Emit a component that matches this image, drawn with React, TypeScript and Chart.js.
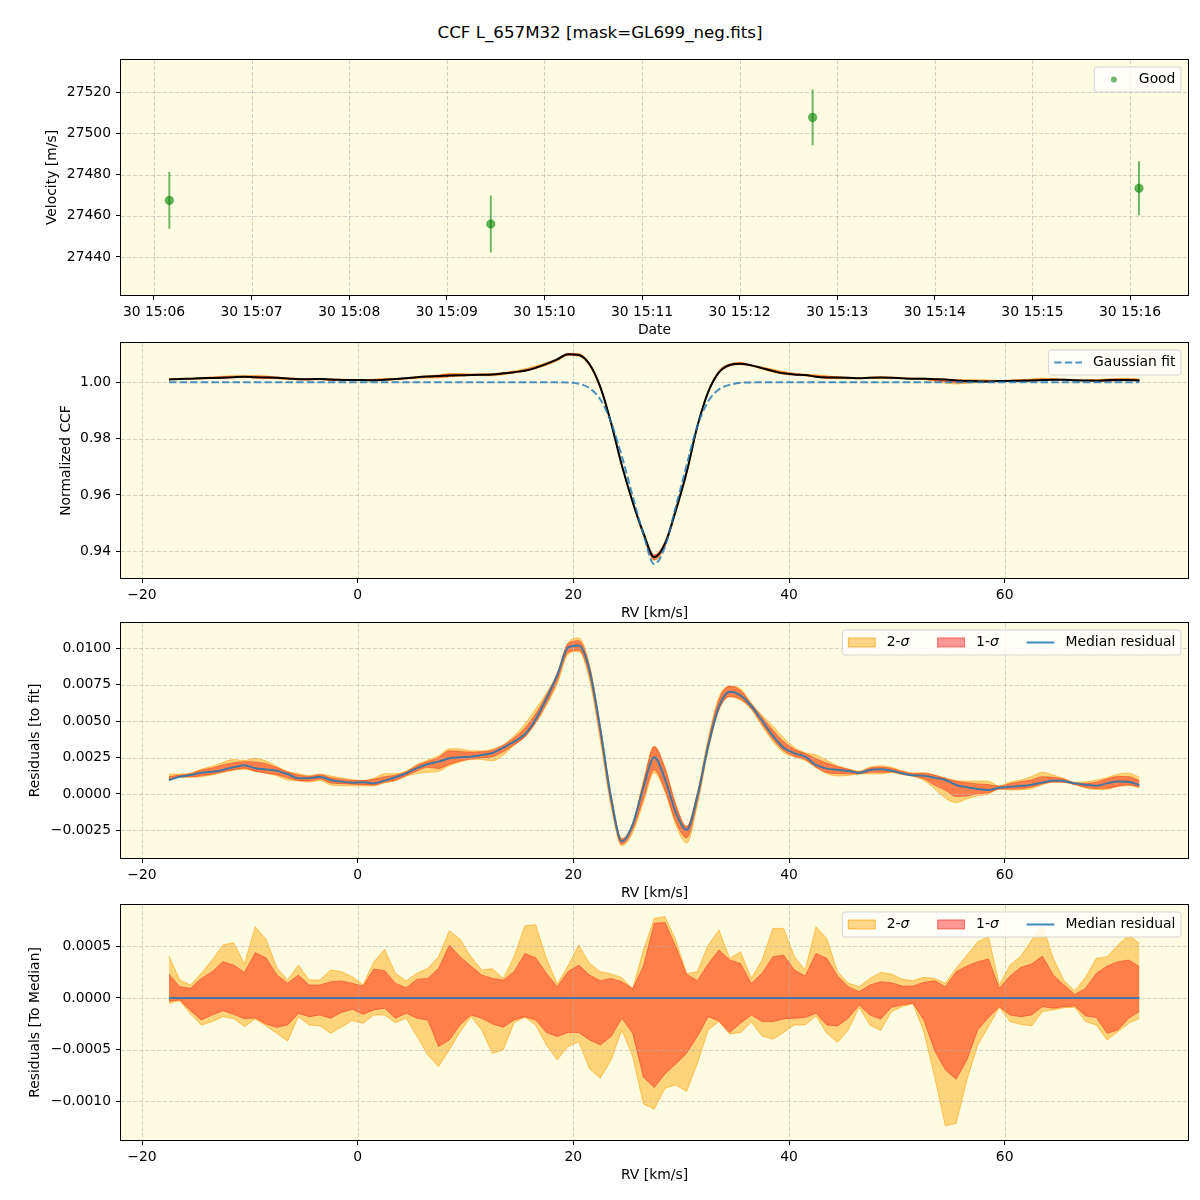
import React, { useEffect, useRef } from "react";
import { Chart, registerables } from "chart.js";

Chart.register(...registerables);

const FONT = "'DejaVu Sans', 'Liberation Sans', sans-serif";
const FS = 13.9;
const BG = "#fdfbe1";
const GRID = "rgba(176,176,176,0.55)";

const TITLE = "CCF L_657M32 [mask=GL699_neg.fits]";

// ---------- Panel 1: velocities ----------
const obsMinutes = [0.157, 3.451, 6.748, 10.092]; // minutes after 30 15:06
const velocity = [27467.5, 27456.0, 27507.8, 27473.4];
const velocityErr = [13.8, 13.8, 13.6, 13.1];
const dateTickLabels = [
  "30 15:06", "30 15:07", "30 15:08", "30 15:09", "30 15:10", "30 15:11",
  "30 15:12", "30 15:13", "30 15:14", "30 15:15", "30 15:16",
];

// ---------- RV grid (km/s) ----------
const rv = [
  -17.5, -16.5, -15.5, -14.5, -13.5, -12.5, -11.5, -10.5, -9.5, -8.5,
  -7.5, -6.5, -5.5, -4.5, -3.5, -2.5, -1.5, -0.5, 0.5, 1.5,
  2.5, 3.5, 4.5, 5.5, 6.5, 7.5, 8.5, 9.5, 10.5, 11.5,
  12.5, 13.5, 14.5, 15.5, 16.5, 17.5, 18.5, 19.5, 20.5, 21.5,
  22.5, 23.5, 24.5, 25.5, 26.5, 27.5, 28.5, 29.5, 30.5, 31.5,
  32.5, 33.5, 34.5, 35.5, 36.5, 37.5, 38.5, 39.5, 40.5, 41.5,
  42.5, 43.5, 44.5, 45.5, 46.5, 47.5, 48.5, 49.5, 50.5, 51.5,
  52.5, 53.5, 54.5, 55.5, 56.5, 57.5, 58.5, 59.5, 60.5, 61.5,
  62.5, 63.5, 64.5, 65.5, 66.5, 67.5, 68.5, 69.5, 70.5, 71.5,
  72.5,
];

// Gaussian fit (normalized CCF)
const gaussFit = [
  1, 1, 1, 1, 1, 1, 1, 1, 1, 1,
  1, 1, 1, 1, 1, 1, 1, 1, 1, 1,
  1, 1, 1, 1, 1, 1, 1, 1, 1, 1,
  1, 1, 1, 1, 1, 1, 1, 0.99992, 0.9995, 0.9979,
  0.9939, 0.9858, 0.9737, 0.9596, 0.946, 0.9354, 0.9417, 0.9558, 0.9705, 0.9845,
  0.9932, 0.9975, 0.9991, 0.9998, 0.99996, 1, 1, 1, 1, 1,
  1, 1, 1, 1, 1, 1, 1, 1, 1, 1,
  1, 1, 1, 1, 1, 1, 1, 1, 1, 1,
  1, 1, 1, 1, 1, 1, 1, 1, 1, 1,
  1,
];

// Median residual to fit (units of 1e-4)
const medianResid = [
  9.6, 11.9, 13.0, 14.6, 15.3, 16.5, 18.3, 19.7, 17.6, 16.9,
  16.0, 13.7, 10.8, 10.8, 11.9, 9.6, 8.5, 7.8, 8.0, 7.3,
  9.2, 11.5, 14.2, 17.8, 20.4, 22.2, 24.5, 25.2, 25.6, 26.8,
  28.1, 31.8, 35.9, 41.0, 51.2, 65.4, 81.4, 100.5, 102.0, 85.1,
  44.5, -2.7, -32.5, -21.0, 4.6, 25.2, 10.1, -12.6, -24.7, -1.4,
  32.7, 59.9, 70.2, 67.7, 60.4, 50.3, 40.0, 31.8, 28.0, 25.6,
  19.9, 17.4, 16.7, 15.8, 14.6, 16.5, 16.9, 16.0, 14.2, 12.8,
  12.6, 11.2, 9.6, 6.2, 4.6, 3.4, 2.7, 4.3, 5.0, 5.5,
  6.4, 7.8, 9.2, 8.9, 7.3, 6.4, 5.7, 7.3, 8.5, 8.2,
  6.2,
];

// Band edges relative to the median (units of 1e-4)
const hi2 = [
  4.06, 1.74, 1.26, 2.39, 3.68, 5.13, 5.35, 3.29, 6.9, 5.7,
  2.94, 1.74, 3.19, 1.74, 1.74, 2.71, 2.55, 2.06, 1.26, 3.5,
  4.7, 2.39, 1.65, 2.39, 2.87, 4.0, 6.52, 5.68, 4.0, 2.71,
  2.84, 1.9, 4.0, 7.0, 7.1, 3.84, 1.35, 3.1, 5.13, 3.35,
  2.55, 2.32, 1.97, 0.9, 4.65, 7.71, 7.87, 5.61, 2.35, 2.55,
  5.13, 6.58, 3.84, 4.48, 1.9, 3.68, 6.74, 6.74, 4.0, 2.71,
  6.9, 5.77, 2.55, 1.42, 1.1, 1.9, 2.48, 2.32, 1.81, 1.68,
  2.0, 1.9, 1.42, 2.87, 4.16, 5.45, 5.94, 1.26, 3.19, 4.06,
  5.61, 7.06, 3.84, 1.68, 0.71, 2.0, 3.84, 4.0, 5.13, 6.1,
  5.29,
];
const hi1 = [
  2.32, 1.1, 0.94, 1.9, 2.55, 3.52, 3.19, 2.48, 4.4, 3.9,
  2.23, 1.42, 2.23, 1.26, 1.26, 1.58, 1.65, 1.42, 1.16, 2.8,
  2.65, 1.42, 1.0, 1.81, 1.9, 2.87, 5.1, 4.0, 3.1, 2.23,
  1.9, 1.74, 2.55, 4.3, 3.9, 2.39, 1.1, 2.55, 3.19, 2.23,
  1.68, 1.9, 1.58, 0.9, 3.1, 7.23, 7.32, 4.97, 2.3, 1.68,
  3.29, 4.65, 3.68, 3.35, 1.42, 2.39, 4.0, 4.16, 2.71, 2.13,
  4.32, 3.84, 2.13, 1.1, 0.61, 1.26, 1.58, 1.48, 1.16, 1.16,
  1.52, 1.68, 1.1, 2.55, 3.1, 3.52, 3.77, 0.94, 2.13, 2.97,
  3.29, 4.06, 2.23, 1.26, 0.35, 0.94, 2.39, 3.1, 3.52, 3.68,
  3.03,
];
const lo1 = [
  -0.32, -0.19, -1.23, -2.13, -1.65, -1.23, -1.58, -2.0, -1.94, -2.52,
  -2.84, -2.61, -1.5, -1.81, -1.65, -1.97, -1.4, -1.1, -1.58, -1.16,
  -1.0, -1.97, -1.48, -1.97, -2.13, -4.71, -4.06, -2.61, -1.65, -1.97,
  -2.52, -2.84, -2.13, -1.81, -2.13, -3.35, -3.74, -3.35, -3.35, -4.06,
  -4.55, -3.74, -1.97, -3.42, -7.68, -8.68, -7.35, -6.39, -5.35, -3.74,
  -1.81, -2.23, -3.35, -2.45, -1.65, -2.29, -2.29, -2.03, -1.97, -1.9,
  -1.48, -2.61, -2.71, -1.97, -0.68, -1.65, -2.06, -0.9, -0.68, -0.5,
  -2.13, -5.1, -6.97, -7.87, -6.0, -3.1, -1.9, -0.84, -1.65, -1.81,
  -1.65, -0.84, -1.0, -0.84, -0.77, -1.74, -1.9, -3.42, -3.1, -1.97,
  -1.32,
];
const lo2 = [
  -0.52, -0.26, -1.55, -2.61, -2.29, -1.81, -2.0, -2.77, -2.03, -2.68,
  -3.42, -4.16, -1.81, -2.61, -2.7, -3.42, -2.8, -2.19, -2.45, -1.65,
  -1.65, -2.39, -1.97, -3.74, -5.52, -6.65, -5.03, -3.26, -1.81, -3.1,
  -5.35, -5.03, -2.39, -1.87, -2.61, -4.55, -6.0, -4.71, -4.23, -6.87,
  -7.77, -6.0, -3.1, -5.68, -10.26, -10.77, -8.74, -8.42, -9.06, -6.32,
  -3.1, -2.29, -3.48, -3.35, -2.35, -3.68, -4.0, -3.35, -2.61, -2.61,
  -1.74, -3.42, -4.29, -3.1, -0.9, -2.61, -3.16, -1.32, -0.84, -0.55,
  -3.26, -7.61, -12.39, -12.13, -7.94, -4.55, -2.77, -0.9, -2.29, -2.55,
  -2.71, -1.32, -1.16, -0.94, -0.9, -2.29, -2.61, -4.06, -3.26, -2.45,
  -1.97,
];
const rvTickLabels: Record<number, string> = { [-20]: "\u221220", 0: "0", 20: "20", 40: "40", 60: "60" };

const E4 = 1e-4;

// ---------- styles ----------
const C_2SIG = "rgba(255,165,0,0.45)";
const C_2SIG_EDGE = "rgba(255,160,0,0.55)";
const C_1SIG = "rgba(255,0,0,0.4)";
const C_1SIG_EDGE = "rgba(240,40,20,0.45)";
const C_MED = "rgba(31,119,180,0.85)";
const C_GAUSS = "rgba(31,119,180,0.8)";

const PAD_TOP = 20;
const AREA_H = 235;
const XAXIS_H = 45;
const CANVAS_H = PAD_TOP + AREA_H + XAXIS_H;

const minus = (s: string) => s.replace(/-/g, "\u2212");
const xy = (xs: number[], ys: number[]) => xs.map((x, i) => ({ x, y: ys[i] }));

type LegendItem = { kind: "dot" | "dash" | "patch" | "line"; label: string; sigma?: boolean; fill?: string; stroke?: string };

function drawGrid(chart: any) {
  const { ctx, chartArea: a, scales } = chart;
  ctx.save();
  ctx.beginPath();
  ctx.rect(a.left, a.top, a.right - a.left, a.bottom - a.top);
  ctx.clip();
  ctx.strokeStyle = GRID;
  ctx.lineWidth = 1;
  ctx.setLineDash([4, 2]);
  ctx.beginPath();
  for (const t of scales.x.ticks) {
    const px = Math.round(scales.x.getPixelForValue(t.value)) + 0.5;
    ctx.moveTo(px, a.top);
    ctx.lineTo(px, a.bottom);
  }
  for (const t of scales.y.ticks) {
    const py = Math.round(scales.y.getPixelForValue(t.value)) + 0.5;
    ctx.moveTo(a.left, py);
    ctx.lineTo(a.right, py);
  }
  ctx.stroke();
  ctx.restore();
}

function drawLegend(chart: any, items: LegendItem[]) {
  if (!items.length) return;
  const { ctx, chartArea: a } = chart;
  const pad = 5.56, hl = 27.8, tp = 11.1, cs = 27.8, h = 25;
  const fontN = `${FS}px ${FONT}`;
  const fontI = `italic ${FS}px ${FONT}`;
  ctx.save();
  const widths = items.map((it) => {
    ctx.font = fontN;
    if (it.sigma) {
      const w1 = ctx.measureText(it.label.slice(0, -1)).width;
      ctx.font = fontI;
      return w1 + ctx.measureText(it.label.slice(-1)).width;
    }
    return ctx.measureText(it.label).width;
  });
  let total = pad * 2;
  items.forEach((_, i) => {
    total += hl + tp + widths[i] + (i > 0 ? cs : 0);
  });
  const left = a.right - 7 - total;
  const top = a.top + 7;
  const r = 3;
  ctx.beginPath();
  ctx.moveTo(left + r, top);
  ctx.lineTo(left + total - r, top);
  ctx.arcTo(left + total, top, left + total, top + r, r);
  ctx.lineTo(left + total, top + h - r);
  ctx.arcTo(left + total, top + h, left + total - r, top + h, r);
  ctx.lineTo(left + r, top + h);
  ctx.arcTo(left, top + h, left, top + h - r, r);
  ctx.lineTo(left, top + r);
  ctx.arcTo(left, top, left + r, top, r);
  ctx.closePath();
  ctx.fillStyle = "rgba(255,255,255,0.8)";
  ctx.fill();
  ctx.strokeStyle = "rgba(204,204,204,0.8)";
  ctx.lineWidth = 1;
  ctx.stroke();

  const cy = top + h / 2;
  let x = left + pad;
  items.forEach((it, i) => {
    if (i > 0) x += cs;
    ctx.setLineDash([]);
    if (it.kind === "dot") {
      ctx.beginPath();
      ctx.arc(x + hl / 2, cy, 3, 0, Math.PI * 2);
      ctx.fillStyle = it.fill!;
      ctx.fill();
    } else if (it.kind === "dash" || it.kind === "line") {
      ctx.beginPath();
      if (it.kind === "dash") ctx.setLineDash([7.4, 3.2]);
      ctx.moveTo(x, cy);
      ctx.lineTo(x + hl, cy);
      ctx.strokeStyle = it.stroke!;
      ctx.lineWidth = 2;
      ctx.stroke();
      ctx.setLineDash([]);
    } else if (it.kind === "patch") {
      ctx.fillStyle = it.fill!;
      ctx.fillRect(x, cy - 4.9, hl, 9.7);
      ctx.strokeStyle = it.stroke!;
      ctx.lineWidth = 1;
      ctx.strokeRect(x + 0.5, cy - 4.4, hl - 1, 8.7);
    }
    x += hl + tp;
    ctx.fillStyle = "#000";
    ctx.textBaseline = "middle";
    ctx.textAlign = "left";
    ctx.font = fontN;
    if (it.sigma) {
      const head = it.label.slice(0, -1);
      ctx.fillText(head, x, cy);
      const w1 = ctx.measureText(head).width;
      ctx.font = fontI;
      ctx.fillText(it.label.slice(-1), x + w1, cy);
    } else {
      ctx.fillText(it.label, x, cy);
    }
    x += widths[i];
  });
  ctx.restore();
}

function makeDeco(gridBefore: number, legend: LegendItem[]) {
  return {
    id: "deco",
    beforeDraw(chart: any) {
      const { ctx, chartArea: a } = chart;
      ctx.save();
      ctx.fillStyle = BG;
      ctx.fillRect(a.left, a.top, a.right - a.left, a.bottom - a.top);
      ctx.restore();
    },
    beforeDatasetDraw(chart: any, args: any) {
      if (args.index === gridBefore) drawGrid(chart);
    },
    afterDraw(chart: any) {
      const { ctx, chartArea: a } = chart;
      ctx.save();
      ctx.strokeStyle = "#000";
      ctx.lineWidth = 1;
      ctx.strokeRect(a.left - 0.5, a.top - 0.5, a.right - a.left + 1, a.bottom - a.top + 1);
      ctx.restore();
      drawLegend(chart, legend);
    },
  };
}

function xScale(min: number, max: number, step: number, cb: (v: number) => string, title: string) {
  return {
    type: "linear",
    min,
    max,
    afterFit: (s: any) => {
      s.height = XAXIS_H;
    },
    ticks: { stepSize: step, includeBounds: false, autoSkip: false, maxRotation: 0, padding: 4.5, color: "#000", font: { size: FS }, callback: (v: any) => cb(Number(v)) },
    grid: { drawOnChartArea: false, drawTicks: true, tickLength: 5, tickColor: "#000", tickWidth: 1 },
    border: { display: false },
    title: { display: true, text: title, color: "#000", font: { size: FS }, padding: { top: 0, bottom: 1.2 } },
  };
}

function yScale(min: number, max: number, step: number, cb: (v: number) => string, title: string, tpad: number) {
  return {
    type: "linear",
    min,
    max,
    afterFit: (s: any) => {
      s.width = 121;
    },
    ticks: { stepSize: step, includeBounds: false, autoSkip: false, padding: 5, color: "#000", font: { size: FS }, callback: (v: any) => cb(Number(v)) },
    grid: { drawOnChartArea: false, drawTicks: true, tickLength: 5, tickColor: "#000", tickWidth: 1 },
    border: { display: false },
    title: { display: true, text: title, color: "#000", font: { size: FS }, padding: { top: tpad, bottom: 0 } },
  };
}

const baseOptions = (scales: any) => ({
  responsive: false,
  animation: false,
  devicePixelRatio: 1,
  events: [],
  layout: { padding: { top: PAD_TOP, right: 12, bottom: 0, left: 0 } },
  plugins: { legend: { display: false }, tooltip: { enabled: false } },
  scales,
});

const line = (data: any, color: string, width: number, extra: any = {}) => ({
  type: "line",
  data,
  borderColor: color,
  borderWidth: width,
  pointRadius: 0,
  pointHoverRadius: 0,
  fill: false,
  ...extra,
});

const rvX = (title: string) => xScale(-21.95, 77.0, 20, (v) => rvTickLabels[Math.round(v)] ?? minus(String(v)), title);

function cfgVelocity(): any {
  const bars = obsMinutes.map((t, i) =>
    line(
      [
        { x: t, y: velocity[i] - velocityErr[i] },
        { x: t, y: velocity[i] + velocityErr[i] },
      ],
      "rgba(0,128,0,0.55)",
      2
    )
  );
  return {
    type: "line",
    data: {
      datasets: [
        {
          type: "line",
          data: xy(obsMinutes, velocity),
          showLine: false,
          pointRadius: 4.3,
          pointHoverRadius: 4.3,
          pointBackgroundColor: "rgba(0,128,0,0.6)",
          pointBorderColor: "rgba(0,128,0,0.3)",
          pointBorderWidth: 1,
        },
        ...bars,
      ],
    },
    options: baseOptions({
      x: xScale(-0.338, 10.594, 1, (v) => dateTickLabels[Math.round(v)] ?? "", "Date"),
      y: yScale(27421.5, 27535.7, 20, (v) => String(Math.round(v)), "Velocity [m/s]", 43.7),
    }),
    plugins: [makeDeco(bars.length, [{ kind: "dot", label: "Good", fill: "rgba(0,128,0,0.55)" }])],
  };
}

function cfgCCF(): any {
  const ccf = rv.map((_, i) => gaussFit[i] + medianResid[i] * E4);
  const band = (off: number[]) => rv.map((_, i) => gaussFit[i] + (medianResid[i] + off[i]) * E4);
  const mono = { cubicInterpolationMode: "monotone" };
  return {
    type: "line",
    data: {
      datasets: [
        line(xy(rv, gaussFit), C_GAUSS, 2, { ...mono, borderDash: [7.4, 3.2] }),
        line(xy(rv, ccf), "#000", 2, mono),
        line(xy(rv, band(hi1)), C_1SIG_EDGE, 1, { ...mono, fill: "+1", backgroundColor: C_1SIG }),
        line(xy(rv, band(lo1)), C_1SIG_EDGE, 1, mono),
        line(xy(rv, band(hi2)), C_2SIG_EDGE, 1, { ...mono, fill: "+1", backgroundColor: C_2SIG }),
        line(xy(rv, band(lo2)), C_2SIG_EDGE, 1, mono),
      ],
    },
    options: baseOptions({
      x: rvX("RV [km/s]"),
      y: yScale(0.93052, 1.01395, 0.02, (v) => v.toFixed(2), "Normalized CCF", 58),
    }),
    plugins: [makeDeco(1, [{ kind: "dash", label: "Gaussian fit", stroke: C_GAUSS }])],
  };
}

const residLegend: LegendItem[] = [
  { kind: "patch", label: "2-\u03c3", sigma: true, fill: C_2SIG, stroke: C_2SIG_EDGE },
  { kind: "patch", label: "1-\u03c3", sigma: true, fill: C_1SIG, stroke: C_1SIG_EDGE },
  { kind: "line", label: "Median residual", stroke: C_MED },
];

function cfgResid(): any {
  const band = (off: number[]) => rv.map((_, i) => (medianResid[i] + off[i]) * E4);
  const mono = { cubicInterpolationMode: "monotone" };
  return {
    type: "line",
    data: {
      datasets: [
        line(xy(rv, medianResid.map((m) => m * E4)), C_MED, 2, mono),
        line(xy(rv, band(hi1)), C_1SIG_EDGE, 1, { ...mono, fill: "+1", backgroundColor: C_1SIG }),
        line(xy(rv, band(lo1)), C_1SIG_EDGE, 1, mono),
        line(xy(rv, band(hi2)), C_2SIG_EDGE, 1, { ...mono, fill: "+1", backgroundColor: C_2SIG }),
        line(xy(rv, band(lo2)), C_2SIG_EDGE, 1, mono),
      ],
    },
    options: baseOptions({
      x: rvX("RV [km/s]"),
      y: yScale(-0.004393, 0.011736, 0.0025, (v) => minus(v.toFixed(4)), "Residuals [to fit]", 26.7),
    }),
    plugins: [makeDeco(0, residLegend)],
  };
}

function cfgToMedian(): any {
  const sc = (off: number[]) => off.map((v) => v * E4);
  const zero = medianResid.map((m) => (m - m) * E4);
  return {
    type: "line",
    data: {
      datasets: [
        line(xy(rv, zero), C_MED, 2),
        line(xy(rv, sc(hi1)), C_1SIG_EDGE, 1, { fill: "+1", backgroundColor: C_1SIG }),
        line(xy(rv, sc(lo1)), C_1SIG_EDGE, 1),
        line(xy(rv, sc(hi2)), C_2SIG_EDGE, 1, { fill: "+1", backgroundColor: C_2SIG }),
        line(xy(rv, sc(lo2)), C_2SIG_EDGE, 1),
      ],
    },
    options: baseOptions({
      x: rvX("RV [km/s]"),
      y: yScale(-0.001376, 0.000901, 0.0005, (v) => minus(v.toFixed(4)), "Residuals [To Median]", 26.7),
    }),
    plugins: [makeDeco(0, residLegend)],
  };
}

const PANEL_TOPS = [60, 343, 623, 905];

export default function App() {
  const r1 = useRef<HTMLCanvasElement>(null);
  const r2 = useRef<HTMLCanvasElement>(null);
  const r3 = useRef<HTMLCanvasElement>(null);
  const r4 = useRef<HTMLCanvasElement>(null);

  useEffect(() => {
    Chart.defaults.font.family = FONT;
    Chart.defaults.font.size = FS;
    Chart.defaults.color = "#000";
    const charts = [
      new Chart(r1.current!, cfgVelocity()),
      new Chart(r2.current!, cfgCCF()),
      new Chart(r3.current!, cfgResid()),
      new Chart(r4.current!, cfgToMedian()),
    ];
    return () => charts.forEach((c) => c.destroy());
  }, []);

  const refs = [r1, r2, r3, r4];
  return (
    <div style={{ position: "absolute", left: 0, top: 0, width: 1200, height: 1200, background: "#fff", overflow: "hidden" }}>
      <div
        style={{
          position: "absolute",
          left: 0,
          top: 22.5,
          width: 1200,
          textAlign: "center",
          fontFamily: FONT,
          fontSize: 16.67,
          lineHeight: "20px",
          color: "#000",
        }}
      >
        {TITLE}
      </div>
      {refs.map((r, i) => (
        <canvas
          key={i}
          ref={r}
          width={1200}
          height={CANVAS_H}
          style={{ position: "absolute", left: 0, top: PANEL_TOPS[i] - PAD_TOP, width: 1200, height: CANVAS_H }}
        />
      ))}
    </div>
  );
}
